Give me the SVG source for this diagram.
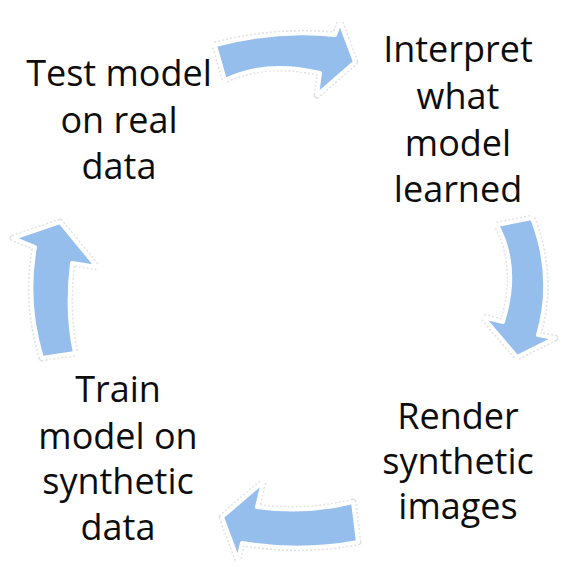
<svg xmlns="http://www.w3.org/2000/svg" width="561" height="567" viewBox="0 0 561 567">
<style>
.lbl{font-family:"Open Sans","Noto Sans","Liberation Sans",sans-serif;font-size:36px;fill:#0d0d0d;text-anchor:middle}
.glow{fill:none;stroke:#e2e2e2;stroke-width:7;stroke-linejoin:round;stroke-dasharray:2 2}
.arw{fill:#95BEEC;stroke:#fff;stroke-width:4;stroke-linejoin:round}
</style>
<defs>
<path id="a1" d="M215,45 Q275,29 335,35 L340,22 L355,62 L317,95 L320,73 Q267,60 225,80 Z"/>
<path id="a2" d="M497,225 L532,218 Q555,277 538,335 L555,338 L517,357 L483,317 L503,322 Q520,267 497,225 Z"/>
<path id="a3" d="M353,502 Q305,514 257,507 L263,482 L222,517 L238,560 L242,543 Q300,553 358,542 Z"/>
<path id="a4" d="M42,358 Q25,303 35,247 L13,238 L60,222 L97,267 L72,263 Q66,312 75,353 Z"/>
</defs>
<rect width="561" height="567" fill="#fff"/>
<g id="connectors">
<use href="#a1" class="glow"/><use href="#a1" class="arw"/>
<use href="#a2" class="glow"/><use href="#a2" class="arw"/>
<use href="#a3" class="glow"/><use href="#a3" class="arw"/>
<use href="#a4" class="glow"/><use href="#a4" class="arw"/>
</g>
<g id="test">
<text class="lbl" x="119" y="86">Test model</text>
<text class="lbl" x="119" y="133">on real</text>
<text class="lbl" x="119" y="179">data</text>
</g>
<g id="interpret">
<text class="lbl" x="458" y="62">Interpret</text>
<text class="lbl" x="458" y="109">what</text>
<text class="lbl" x="458" y="156">model</text>
<text class="lbl" x="458" y="202">learned</text>
</g>
<g id="render">
<text class="lbl" x="458" y="429">Render</text>
<text class="lbl" x="458" y="474">synthetic</text>
<text class="lbl" x="458" y="519">images</text>
</g>
<g id="train">
<text class="lbl" x="118" y="402">Train</text>
<text class="lbl" x="118" y="449">model on</text>
<text class="lbl" x="118" y="494">synthetic</text>
<text class="lbl" x="118" y="540">data</text>
</g>
</svg>
